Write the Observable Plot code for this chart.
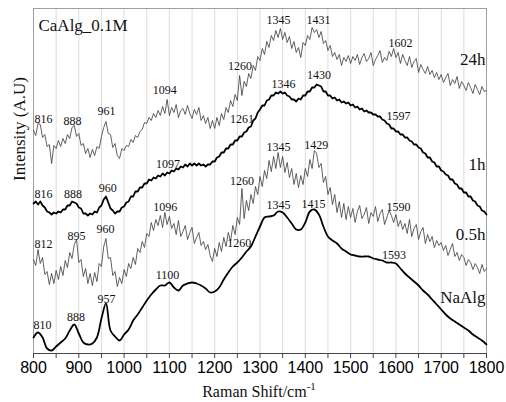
<!DOCTYPE html>
<html><head><meta charset="utf-8">
<script src="https://cdn.jsdelivr.net/npm/d3@7"></script>
<script src="https://cdn.jsdelivr.net/npm/@observablehq/plot@0.6"></script>
<style>body{margin:0;background:#fff} #chart{width:506px;height:402px}</style>
</head><body><div id="chart"></div>
<script>
// Raman shift sampling (cm^-1)
const shift5 = d3.range(800, 1801, 5);
const shift10 = d3.range(800, 1801, 10);

// Intensities (arbitrary units, stacked offsets as in the figure)
const int24h = [
223,218,230,229,216,219,207,209,190,208, 205,213,207,215,210,219,215,226,228,217,
220,208,210,200,205,196,204,198,207,205, 217,226,232,220,219,206,210,198,195,205,
203,208,207,214,211,218,216,222,224,231, 230,236,233,240,236,243,238,247,240,254,
238,246,241,249,236,243,245,239,248,240, 235,244,239,246,233,238,230,236,225,233,
225,236,228,240,234,246,241,253,247,259, 253,278,258,272,267,280,275,288,283,297,
293,305,299,312,306,318,313,323,316,325, 314,321,311,317,305,312,301,306,296,311,
308,318,314,326,321,324,316,322,310,313, 303,308,297,301,294,299,288,296,292,298,
290,297,293,299,289,296,300,292,295,301, 288,294,298,303,291,296,293,302,297,305,
296,301,290,299,293,288,297,286,292,295, 281,289,284,280,287,279,283,276,281,274,
279,271,276,280,268,274,270,277,265,272, 268,263,271,266,260,269,264,259,267,262,
263];
const int1h = [
150,152,149,152,148,146,142,141,139,141, 140,142,141,144,144,148,148,152,151,150,
146,145,140,140,138,140,139,142,141,146, 148,154,157,151,145,143,140,142,142,146,
147,151,152,157,157,162,162,166,166,170, 170,174,173,176,175,178,177,180,178,181,
180,183,182,185,184,187,186,189,187,190, 188,190,188,190,188,189,187,189,189,192,
192,196,197,201,201,205,205,209,209,213, 213,217,217,221,222,226,227,233,235,241,
244,248,248,253,254,258,258,261,260,262, 260,261,258,257,254,254,252,255,254,258,
258,262,262,266,266,269,268,267,262,262, 258,258,255,256,253,254,251,252,250,251,
248,249,246,247,244,245,242,243,241,241, 239,239,237,237,234,233,230,229,225,225,
222,222,219,219,216,216,213,212,209,209, 206,205,201,200,196,196,192,191,187,187,
183,182,179,178,174,174,170,169,165,165, 161,161,157,157,153,152,148,147,143,142,
139];
const int05h = [
94,88,104,90,96,79,82,69,80,70, 83,74,87,78,93,86,101,95,109,114,
91,94,77,85,70,80,68,81,72,90, 87,107,115,95,96,78,82,67,76,70,
84,77,90,85,96,89,105,101,112,106, 120,117,131,123,134,128,138,126,141,129,
137,125,130,119,133,117,122,128,114,121, 126,110,116,121,108,112,104,109,98,92,
105,97,111,102,116,107,121,112,128,119, 136,129,165,135,153,143,159,150,167,159,
177,167,183,175,193,182,197,185,201,186, 197,181,191,176,185,169,180,166,178,169,
185,177,194,185,203,200,186,190,171,177, 159,166,149,159,141,152,136,150,134,147,
136,145,131,142,148,135,139,146,130,141, 137,147,132,140,144,129,136,143,138,131,
139,127,133,124,130,120,134,117,125,129, 114,122,126,110,119,112,117,106,113,108,
111,103,108,98,104,110,97,101,93,99, 96,88,94,91,84,90,86,80,89,82,
85];
const intNaAlg = [
16,21,16,5,3,7,11,15,23,29,
20,11,9,10,16,35,50,23,17,13,
19,24,33,39,46,53,59,64,68,68,
71,66,63,68,70,71,70,68,65,61,
62,66,74,81,87,91,96,102,107,117,
127,136,137,138,142,141,136,130,124,124,
131,142,144,139,127,117,113,110,105,102,
99,98,97,97,97,95,94,93,91,91,
90,85,80,76,72,68,63,59,54,49,
44,39,35,32,29,26,23,19,16,13,
9];

// Peak annotations
const peakText  = ["816","888","961","1094","1260","1345","1431","1602",
                   "816","888","960","1097","1261","1346","1430","1597",
                   "812","895","960","1096","1260","1345","1429","1590",
                   "810","888","957","1100","1260","1345","1415","1593"];
const peakShift = [822,886,961,1090,1256,1341,1429,1610,
                   822,887,964,1097,1260,1352,1430,1606,
                   822,895,959,1091,1260,1341,1424,1606,
                   820,894,961,1096,1254,1341,1418,1596];
const peakInt   = [234,232,242,263,287,333,333,310,
                   159,159,165,189,234,269,278,237,
                   109,117,124,146,172,206,208,146,
                   28,36,54,78,110,148,149,98];

const seriesNames = ["24h","1h","0.5h","NaAlg"];
const seriesNameInt = [294,189,119,56];

const lineData = (xs, ys) => xs.map((x, i) => ({x, y: ys[i]}));
const d24 = lineData(shift5, int24h);
const d1 = lineData(shift5, int1h);
const d05 = lineData(shift5, int05h);
const dNa = lineData(shift10, intNaAlg);
const peaks = peakText.map((t, i) => ({t, x: peakShift[i], y: peakInt[i]}));
const names = seriesNames.map((t, i) => ({t, x: 1800, y: seriesNameInt[i]}));

const serif = "Liberation Serif, Times New Roman, DejaVu Serif, serif";
const sans = "Liberation Sans, Arial, sans-serif";

const chart = Plot.plot({
  width: 506, height: 402,
  marginTop: 8, marginBottom: 49, marginLeft: 33, marginRight: 20,
  style: {background: "#fff", color: "#000"},
  x: {domain: [800, 1800]},
  y: {domain: [0, 345], axis: null},
  marks: [
    Plot.gridX(d3.range(800, 1801, 50), {stroke: "#dcdcdc", strokeOpacity: 1}),
    Plot.frame({stroke: "#a0a0a0"}),
    Plot.line(d24, {x: "x", y: "y", stroke: "#3a3a3a", strokeWidth: 0.8}),
    Plot.line(d05, {x: "x", y: "y", stroke: "#3a3a3a", strokeWidth: 0.8}),
    Plot.line(d1, {x: "x", y: "y", stroke: "#000", strokeWidth: 1.8}),
    Plot.line(dNa, {x: "x", y: "y", stroke: "#000", strokeWidth: 1.8, curve: "catmull-rom"}),
    Plot.ruleY([0], {stroke: "#444"}),
    Plot.axisX({ticks: d3.range(800, 1801, 50), tickFormat: d => d % 100 === 0 ? String(d) : "",
      tickSize: 5, tickPadding: 3, fontSize: 16, fontFamily: sans, label: null, stroke: "#444"}),
    Plot.text(peaks, {x: "x", y: "y", text: "t", fontSize: 12, fontFamily: serif, fill: "#111"}),
    Plot.text(names, {x: "x", y: "y", text: "t", textAnchor: "end", dx: -1, fontSize: 17, fontFamily: serif, fill: "#111"}),
    Plot.text(["CaAlg_0.1M"], {x: 811, y: 328, textAnchor: "start", fontSize: 17, fontFamily: serif, fill: "#111"}),
    Plot.text(["Intensity (A.U)"], {frameAnchor: "left", dx: -14, rotate: -90, fontSize: 17, fontFamily: serif, fill: "#111"})
  ]
});
const t = d3.select(chart).append("text")
  .attr("x", 259).attr("y", 397).attr("text-anchor", "middle")
  .attr("font-family", serif).attr("font-size", 16).attr("fill", "#111");
t.append("tspan").text("Raman Shift/cm");
t.append("tspan").attr("dy", -7).attr("font-size", 11).text("-1");
document.getElementById("chart").appendChild(chart);
</script>
</body></html>
